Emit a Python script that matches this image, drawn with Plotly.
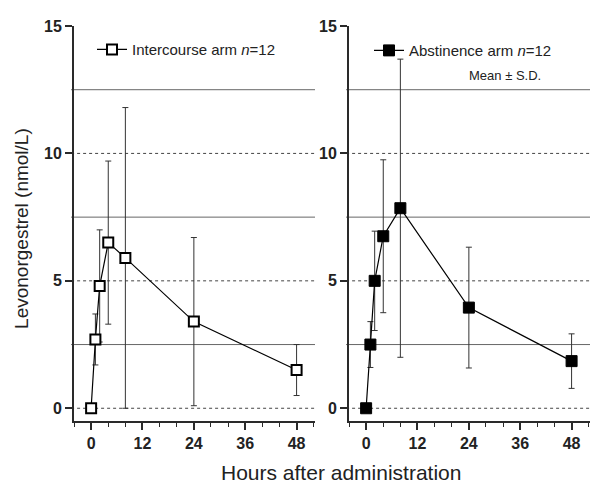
import plotly.graph_objects as go

# Data
hours = [0, 1, 2, 4, 8, 24, 48]
intercourse_mean = [0.0, 2.7, 4.8, 6.5, 5.9, 3.4, 1.5]
intercourse_sd = [0.0, 1.0, 2.2, 3.2, 5.9, 3.3, 1.0]
abstinence_mean = [0.0, 2.5, 5.0, 6.75, 7.85, 3.95, 1.85]
abstinence_sd = [0.0, 0.9, 1.95, 3.0, 5.85, 2.37, 1.07]

x_ticks = [0, 12, 24, 36, 48]
y_ticks = [0, 5, 10, 15]
grid_dotted = [0, 5, 10]
grid_solid = [2.5, 7.5, 12.5]

FONT = "Liberation Sans, Arial, sans-serif"
AX = "#2a2a2a"

# page body has an 8px margin; compensate so the chart sits like the reference
OFF = 8
W, H = 600 - OFF, 484 - OFF
L, T, R, B = 74 - OFF, 20 - OFF, 10, 71 - OFF
PW, PH = W - L - R, H - T - B


def px(xp):
    return (xp - 74) / PW


def py(yp):
    return (413 - yp) / PH


fig = go.Figure()

fig.add_trace(go.Scatter(
    x=hours, y=intercourse_mean, mode="lines+markers",
    name="Intercourse arm <i>n</i>=12",
    line=dict(color="black", width=1.2),
    marker=dict(symbol="square", size=10, color="white", line=dict(color="black", width=2)),
    error_y=dict(type="data", array=intercourse_sd, color="#333", thickness=1, width=3),
    xaxis="x", yaxis="y", legend="legend",
))
fig.add_trace(go.Scatter(
    x=hours, y=abstinence_mean, mode="lines+markers",
    name="Abstinence arm <i>n</i>=12",
    line=dict(color="black", width=1.2),
    marker=dict(symbol="square", size=11, color="black", line=dict(color="black", width=1)),
    error_y=dict(type="data", array=abstinence_sd, color="#333", thickness=1, width=3),
    xaxis="x2", yaxis="y2", legend="legend2",
))

shapes = []
for xd, yr in (("x domain", "y"), ("x2 domain", "y2")):
    for v in grid_dotted:
        shapes.append(dict(type="line", xref=xd, yref=yr, x0=-0.012, x1=1, y0=v, y1=v,
                           line=dict(color="#444", width=1, dash="dot"), layer="below"))
    for v in grid_solid:
        shapes.append(dict(type="line", xref=xd, yref=yr, x0=-0.012, x1=1, y0=v, y1=v,
                           line=dict(color="#666", width=1), layer="below"))

xcommon = dict(range=[-4, 52.3], tickvals=x_ticks, ticks="outside", ticklen=7, tickwidth=1.5,
               tickcolor=AX, showline=True, linecolor=AX, linewidth=2, showgrid=False, zeroline=False,
               tickfont=dict(family=FONT, size=16, color="#222", weight="bold"),
               minor=dict(dtick=4, tick0=0, ticks="outside", ticklen=4, tickcolor=AX, tickwidth=1.2))
ycommon = dict(range=[-0.5, 15], tickvals=y_ticks, ticks="outside", ticklen=7, tickwidth=1.5,
               tickcolor=AX, showline=True, linecolor=AX, linewidth=2, showgrid=False, zeroline=False,
               tickfont=dict(family=FONT, size=16, color="#222", weight="bold"))

fig.update_layout(
    width=W, height=H,
    margin=dict(l=L, r=R, t=T, b=B),
    paper_bgcolor="white", plot_bgcolor="white",
    showlegend=True,
    xaxis=dict(domain=[0, (315 - 74) / PW], anchor="y", **xcommon),
    yaxis=dict(anchor="x", **ycommon),
    xaxis2=dict(domain=[(349 - 74) / PW, 1.0], anchor="y2", **xcommon),
    yaxis2=dict(anchor="x2", **ycommon),
    legend=dict(x=px(92), y=py(36), xanchor="left", yanchor="middle",
                bgcolor="rgba(0,0,0,0)", font=dict(family=FONT, size=15, color="#222")),
    legend2=dict(x=px(369), y=py(37), xanchor="left", yanchor="middle",
                 bgcolor="rgba(0,0,0,0)", font=dict(family=FONT, size=15, color="#222")),
    shapes=shapes,
    annotations=[
        dict(text="Mean ± S.D.", xref="paper", yref="paper", x=px(505), y=py(62),
             xanchor="center", yanchor="middle", showarrow=False,
             font=dict(family=FONT, size=13, color="#222")),
        dict(text="Hours after administration", xref="paper", yref="paper",
             x=px(341), y=py(465), xanchor="center", yanchor="middle", showarrow=False,
             font=dict(family=FONT, size=21, color="#222")),
        dict(text="Levonorgestrel (nmol/L)", xref="paper", yref="paper",
             x=px(22), y=py(218), xanchor="center", yanchor="middle", textangle=-90,
             showarrow=False, font=dict(family=FONT, size=19, color="#222")),
    ],
)

fig.write_html("out.html")
